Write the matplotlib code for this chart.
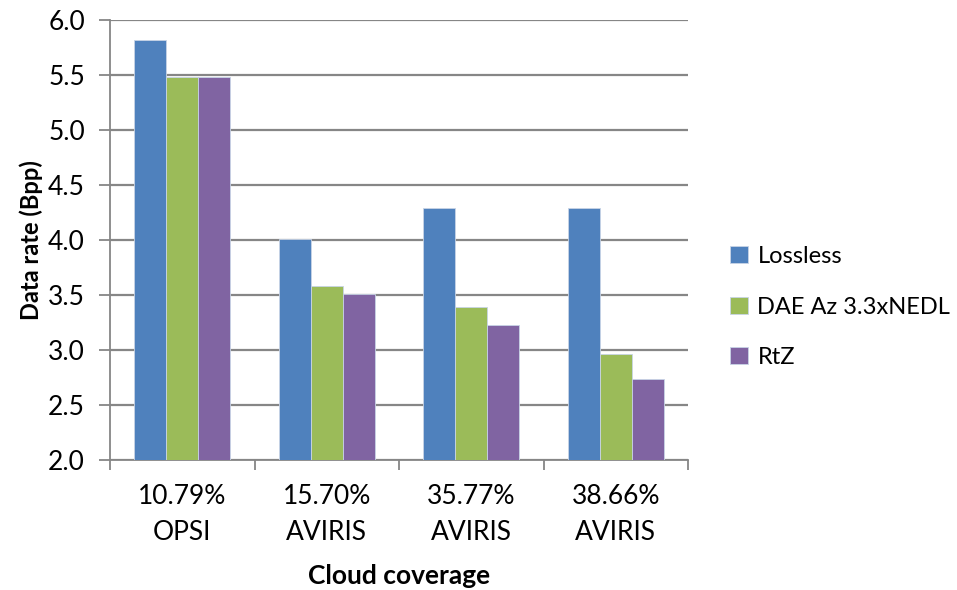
import matplotlib.pyplot as plt
import numpy as np

plt.rcParams['font.family'] = ['Lato', 'DejaVu Sans']

groups = ['10.79%\nOPSI', '15.70%\nAVIRIS', '35.77%\nAVIRIS', '38.66%\nAVIRIS']
series = ['Lossless', 'DAE Az 3.3xNEDL', 'RtZ']
lossless = [5.82, 4.01, 4.29, 4.29]
dae = [5.48, 3.58, 3.39, 2.96]
rtz = [5.48, 3.51, 3.23, 2.74]
colors = ['#4F81BD', '#9BBB59', '#8064A2']

fig = plt.figure(figsize=(9.57, 5.9), dpi=100)
ax = fig.add_axes([110 / 957, 130 / 590, 578 / 957, 440 / 590])

x = np.arange(len(groups))
w = 1 / 4.5
for i, (vals, name, c) in enumerate(zip([lossless, dae, rtz], series, colors)):
    ax.bar(x + (i - 1) * w, np.array(vals) - 2.0, w, bottom=2.0, color=c,
           edgecolor='#c8d4e6', linewidth=0.6, label=name, zorder=3)

ax.set_xlim(-0.5, 3.5)
ax.set_ylim(2.0, 6.0)
ax.set_yticks(np.arange(2.0, 6.01, 0.5))
ax.set_yticklabels([f'{v:.1f}' for v in np.arange(2.0, 6.01, 0.5)], fontsize=19)
ax.yaxis.grid(True, color='#868686', linewidth=1.6, zorder=0)

ax.set_xticks(x)
ax.set_xticklabels(groups, fontsize=19, linespacing=1.55)
ax.set_xticks(np.arange(-0.5, 3.6, 1), minor=True)
ax.tick_params(axis='x', which='major', length=0, pad=17)
ax.tick_params(axis='x', which='minor', length=7, color='#868686', width=1.3)
ax.tick_params(axis='y', length=8, color='#868686', width=1.3, pad=10)

for s in ['top', 'right']:
    ax.spines[s].set_visible(False)
for s in ['left', 'bottom']:
    ax.spines[s].set_color('#868686')
    ax.spines[s].set_linewidth(1.3)

ax.set_ylabel('Data rate (Bpp)', fontsize=17, fontweight='bold', labelpad=4)
fig.text(399 / 957, 1 - 576 / 590, 'Cloud coverage', fontsize=19,
         fontweight='bold', ha='center', va='center')

fig.legend(loc='center left', bbox_to_anchor=(709 / 957, 1 - 307 / 590),
           frameon=False, fontsize=17, handlelength=0.75, handleheight=0.75,
           handletextpad=0.4, labelspacing=1.25)

fig.savefig('out.png', dpi=100)
